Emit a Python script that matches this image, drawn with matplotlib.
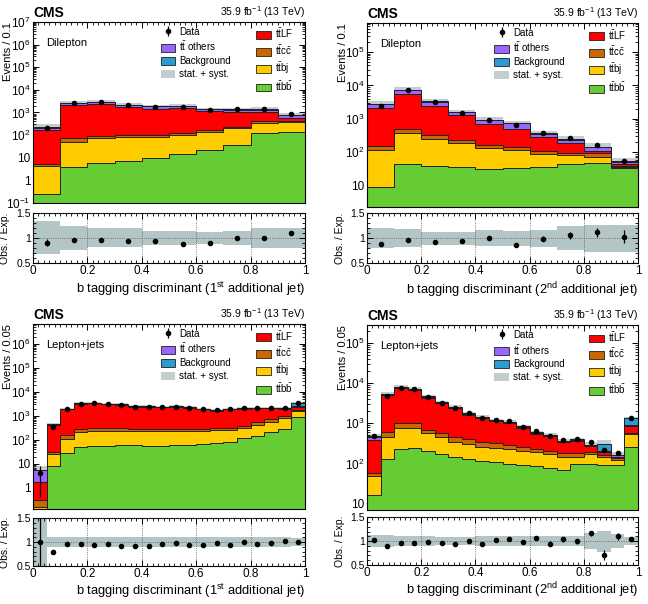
import numpy as np
import matplotlib
matplotlib.use("Agg")
import matplotlib.pyplot as plt
from matplotlib.patches import Patch
from matplotlib.ticker import LogLocator, FuncFormatter, NullFormatter, MultipleLocator

# ── Style ─────────────────────────────────────────────────────────────────────
plt.rcParams.update({
    "font.family": "Liberation Sans",
    "mathtext.fontset": "custom",
    "mathtext.rm": "Liberation Sans",
    "mathtext.it": "Liberation Sans:italic",
    "mathtext.bf": "Liberation Sans:bold",
    "axes.linewidth": 0.8,
})

C_BB = "#66cc33"
C_BJ = "#ffcc00"
C_CC = "#cc6600"
C_LF = "#ff0000"
C_OTH = "#9966ff"
C_BKG = "#2b9bd0"
C_BAND = "#c3cfcf"
C_RBAND = "#b3c5c5"

# ── Dilepton, 1st additional jet (10 bins) ───────────────────────────────────
dl1_ttbb = [0.25, 4.0, 5.6, 7.0, 10, 14.5, 23, 36, 130, 138]
dl1_ttbj = [4.2, 47, 72, 79, 76, 85, 121, 164, 210, 237]
dl1_ttcc = [0.6, 21, 18, 14, 18, 28, 26, 40, 60, 35]
dl1_ttlf = [165, 1980, 2200, 1600, 1370, 1430, 950, 840, 670, 180]
dl1_oth = [45, 560, 600, 430, 370, 400, 280, 270, 270, 150]
dl1_bkg = [7, 90, 100, 70, 60, 60, 60, 60, 60, 40]
dl1_data = [200, 2570, 2850, 2050, 1790, 1780, 1300, 1400, 1400, 850]
dl1_ratio = [0.90, 0.95, 0.95, 0.93, 0.94, 0.88, 0.89, 0.99, 1.00, 1.09]
dl1_rerr = [0.07, 0.02, 0.02, 0.02, 0.025, 0.025, 0.03, 0.03, 0.03, 0.04]
dl1_unc = [0.33, 0.24, 0.19, 0.19, 0.14, 0.14, 0.12, 0.14, 0.20, 0.20]

# ── Dilepton, 2nd additional jet (10 bins) ───────────────────────────────────
dl2_ttbb = [9.1, 44, 39, 36, 32, 33, 37, 45, 47, 33]
dl2_ttbj = [108, 346, 206, 150, 100, 84, 52, 38, 27, 3]
dl2_ttcc = [38, 100, 85, 48, 34, 31, 23, 15, 19, 2]
dl2_ttlf = [2000, 4900, 2170, 1056, 554, 352, 183, 88, 19, 8]
dl2_oth = [600, 1750, 760, 310, 195, 230, 65, 50, 30, 5]
dl2_bkg = [90, 270, 110, 50, 35, 37, 15, 9, 6, 2]
dl2_data = [2500, 7200, 3100, 1550, 950, 660, 370, 260, 166, 55]
dl2_ratio = [0.88, 0.97, 0.92, 0.94, 1.00, 0.86, 0.99, 1.06, 1.12, 1.03]
dl2_rerr = [0.01, 0.01, 0.02, 0.025, 0.03, 0.04, 0.05, 0.07, 0.09, 0.13]
dl2_unc = [0.20, 0.18, 0.13, 0.13, 0.16, 0.15, 0.17, 0.24, 0.27, 0.27]

# ── Lepton+jets, 1st additional jet (20 bins) ────────────────────────────────
lj1_ttbb = [0.12, 8.4, 28, 50, 54, 57, 60, 62, 57, 55, 60, 62, 70, 75, 85, 115, 140, 210, 290, 890]
lj1_ttbj = [0.04, 17.6, 82, 170, 186, 183, 180, 173, 173, 185, 185, 183, 175, 175, 170, 185, 270, 340, 510, 670]
lj1_ttcc = [0.15, 5, 52, 70, 60, 60, 60, 55, 50, 45, 45, 45, 45, 50, 55, 90, 130, 180, 200, 170]
lj1_ttlf = [1.5, 387, 1698, 2935, 3055, 2700, 2555, 2160, 2170, 2015, 2055, 1885, 1605, 1357, 1585, 1575, 1560, 1325, 1020, 620]
lj1_oth = [3.5, 20, 90, 160, 170, 150, 140, 120, 120, 115, 115, 110, 95, 85, 95, 100, 105, 100, 100, 150]
lj1_bkg = [0.15, 6, 30, 55, 55, 50, 45, 40, 40, 35, 40, 35, 30, 28, 30, 35, 35, 35, 40, 900]
lj1_data = [4.2, 355, 1900, 3300, 3400, 3100, 2800, 2400, 2400, 2350, 2450, 2200, 1900, 1750, 1900, 2100, 2150, 2150, 2200, 3500]
lj1_ratio = [1.00, 0.80, 0.96, 0.96, 0.95, 0.97, 0.92, 0.92, 0.92, 0.96, 0.98, 0.95, 0.94, 0.99, 0.94, 1.00, 0.96, 0.98, 1.02, 1.00]
lj1_rerr = [0.9, 0.04, 0.02, 0.015, 0.015, 0.015, 0.02, 0.02, 0.02, 0.02, 0.02, 0.02, 0.02, 0.025, 0.02, 0.02, 0.02, 0.02, 0.02, 0.015]
lj1_unc = [0.55, 0.10, 0.10, 0.10, 0.10, 0.10, 0.10, 0.10, 0.10, 0.10, 0.10, 0.10, 0.10, 0.10, 0.10, 0.10, 0.10, 0.10, 0.10, 0.08]

# ── Lepton+jets, 2nd additional jet (20 bins) ────────────────────────────────
lj2_ttbb = [17, 128, 230, 250, 200, 175, 150, 128, 117, 108, 98, 93, 85, 77, 69, 98, 100, 93, 94, 265]
lj2_ttbj = [31, 342, 520, 540, 390, 275, 200, 172, 148, 142, 132, 117, 105, 93, 81, 52, 70, 57, 26, 270]
lj2_ttcc = [9, 150, 250, 240, 110, 140, 120, 100, 85, 70, 60, 55, 40, 30, 30, 35, 20, 15, 15, 55]
lj2_ttlf = [333, 4430, 6520, 5820, 3690, 2540, 1995, 1260, 1025, 800, 740, 515, 325, 278, 157, 185, 86, 25, 15, 270]
lj2_oth = [80, 250, 380, 340, 220, 160, 120, 85, 70, 55, 50, 40, 30, 25, 18, 18, 10, 10, 10, 50]
lj2_bkg = [10, 90, 140, 130, 80, 60, 45, 35, 25, 25, 20, 20, 15, 12, 10, 12, 7, 110, 5, 440]
lj2_data = [490, 4850, 7800, 7100, 4600, 3250, 2450, 1780, 1400, 1230, 1150, 820, 640, 490, 380, 400, 340, 220, 182, 1400]
lj2_ratio = [1.02, 0.90, 0.97, 0.97, 0.98, 0.97, 0.93, 1.00, 0.95, 1.02, 1.05, 0.98, 1.07, 0.95, 1.04, 1.00, 1.16, 0.71, 1.10, 1.04]
lj2_rerr = [0.04, 0.015, 0.01, 0.01, 0.015, 0.02, 0.02, 0.025, 0.03, 0.03, 0.035, 0.04, 0.04, 0.045, 0.05, 0.05, 0.06, 0.10, 0.07, 0.04]
lj2_unc = [0.12, 0.12, 0.10, 0.10, 0.10, 0.09, 0.09, 0.09, 0.10, 0.10, 0.10, 0.10, 0.10, 0.10, 0.10, 0.10, 0.17, 0.22, 0.15, 0.08]

LABELS_L = ["Data", r"t$\bar{\rm t}$ others", "Background", "stat. + syst."]
LABELS_R = [r"t$\bar{\rm t}$LF", r"t$\bar{\rm t}$c$\bar{\rm c}$",
            r"t$\bar{\rm t}$bj", r"t$\bar{\rm t}$b$\bar{\rm b}$"]


def log_label(v, pos):
    e = int(round(np.log10(v)))
    if e == 0:
        return "1"
    if e == 1:
        return "10"
    return r"10$^{%d}$" % e


def style_ticks(ax, size=8.5):
    ax.tick_params(which="both", direction="in", top=True, right=True, labelsize=size)
    ax.tick_params(which="major", length=4.5, width=0.7)
    ax.tick_params(which="minor", length=2.2, width=0.6)


def draw_panel(main_rect, ratio_rect, comps, data, ratio, rerr, unc,
               ylim, channel, ylabel, xlabel, xlab_y):
    ax = fig.add_axes(main_rect)
    rax = fig.add_axes(ratio_rect)

    comps = np.array(comps, dtype=float)
    data = np.array(data, dtype=float)
    ratio = np.array(ratio, dtype=float)
    rerr = np.array(rerr, dtype=float)
    unc = np.array(unc, dtype=float)
    edges = np.linspace(0, 1, len(data) + 1)
    centers = 0.5 * (edges[1:] + edges[:-1])
    stack = np.cumsum(comps, axis=0)
    total = stack[-1]

    # uncertainty band behind stack
    ax.stairs(total * (1 + unc), edges, baseline=total * (1 - unc),
              fill=True, color=C_BAND, lw=0, zorder=1)
    colors = [C_BB, C_BJ, C_CC, C_LF, C_OTH, C_BKG]
    base = np.full_like(total, 1e-3)
    for top, c in zip(stack, colors):
        ax.stairs(top, edges, baseline=base, fill=True, color=c, lw=0, zorder=2)
        base = top
    for top in stack:
        ax.stairs(top, edges, baseline=None, color="#202020", lw=0.7, zorder=3)

    h_data = ax.errorbar(centers, data, yerr=data * rerr / ratio, fmt="o", ms=3,
                         color="black", elinewidth=0.9, capsize=0, zorder=5)

    ax.set_yscale("log")
    ax.set_xlim(0, 1)
    ax.set_ylim(*ylim)
    ax.yaxis.set_major_locator(LogLocator(base=10, numticks=15))
    ax.yaxis.set_minor_locator(LogLocator(base=10, subs=np.arange(2, 10), numticks=15))
    ax.yaxis.set_major_formatter(FuncFormatter(log_label))
    ax.yaxis.set_minor_formatter(NullFormatter())
    ax.xaxis.set_major_locator(MultipleLocator(0.2))
    ax.xaxis.set_minor_locator(MultipleLocator(0.02))
    style_ticks(ax)
    ax.tick_params(axis="x", labelbottom=False)
    ax.tick_params(axis="y", pad=2)
    ax.set_ylabel(ylabel, fontsize=8, loc="top")
    ax.yaxis.set_label_coords(-0.072, 1.0)

    ax.text(0, 1.012, "CMS", transform=ax.transAxes, fontsize=10,
            fontweight="bold", ha="left", va="bottom")
    ax.text(1, 1.012, r"35.9 fb$^{-1}$ (13 TeV)", transform=ax.transAxes,
            fontsize=7.5, ha="right", va="bottom")
    ax.text(0.05, 0.885, channel, transform=ax.transAxes, fontsize=8,
            ha="left", va="center")

    hl = [h_data,
          Patch(facecolor=C_OTH, edgecolor="#202020", lw=0.6),
          Patch(facecolor=C_BKG, edgecolor="#202020", lw=0.6),
          Patch(facecolor=C_BAND, edgecolor="none")]
    hr = [Patch(facecolor=c, edgecolor="#202020", lw=0.6)
          for c in [C_LF, C_CC, C_BJ, C_BB]]
    kw = dict(frameon=False, fontsize=7, handlelength=1.5, handleheight=0.8,
              labelspacing=0.3, borderaxespad=0, handletextpad=0.4,
              borderpad=0, loc="upper left")
    leg1 = ax.legend(hl, LABELS_L, bbox_to_anchor=(0.47, 0.975), **kw)
    ax.add_artist(leg1)
    ax.legend(hr, LABELS_R, bbox_to_anchor=(0.82, 0.975), **kw)

    # ratio panel
    rax.stairs(1 + unc, edges, baseline=1 - unc, fill=True, color=C_RBAND, lw=0, zorder=1)
    rax.errorbar(centers, ratio, yerr=rerr, fmt="o", ms=3, color="black",
                 elinewidth=0.9, capsize=0, zorder=5)
    rax.set_xlim(0, 1)
    rax.set_ylim(0.5, 1.5)
    rax.set_yticks([0.5, 1, 1.5])
    rax.set_yticklabels(["0.5", "1", "1.5"])
    rax.yaxis.set_minor_locator(MultipleLocator(0.1))
    rax.xaxis.set_major_locator(MultipleLocator(0.2))
    rax.xaxis.set_minor_locator(MultipleLocator(0.02))
    rax.xaxis.set_major_formatter(FuncFormatter(lambda v, p: "%g" % round(v, 1)))
    style_ticks(rax)
    rax.tick_params(axis="x", pad=1.5)
    rax.tick_params(axis="y", pad=1.5, labelsize=7.5)
    rax.grid(True, which="major", linestyle=":", color="#555555", lw=0.6, zorder=2)
    rax.set_axisbelow(False)
    rax.set_ylabel("Obs. / Exp.", fontsize=7.5)
    rax.yaxis.set_label_coords(-0.083, 0.5)
    rax.set_xlabel(xlabel, fontsize=9.3, loc="right")
    rax.xaxis.set_label_coords(1.0, xlab_y)


fig = plt.figure(figsize=(6.48, 6.04), dpi=100)

XL1 = r"b tagging discriminant (1$^{\rm st}$ additional jet)"
XL2 = r"b tagging discriminant (2$^{\rm nd}$ additional jet)"

draw_panel([0.0509, 0.6639, 0.4198, 0.2997], [0.0509, 0.5646, 0.4198, 0.0828],
           [dl1_ttbb, dl1_ttbj, dl1_ttcc, dl1_ttlf, dl1_oth, dl1_bkg],
           dl1_data, dl1_ratio, dl1_rerr, dl1_unc, (0.1, 1e7),
           "Dilepton", "Events / 0.1", XL1, -0.34)
draw_panel([0.5664, 0.6573, 0.4182, 0.3046], [0.5664, 0.5640, 0.4182, 0.0828],
           [dl2_ttbb, dl2_ttbj, dl2_ttcc, dl2_ttlf, dl2_oth, dl2_bkg],
           dl2_data, dl2_ratio, dl2_rerr, dl2_unc, (2.3, 7.4e5),
           "Dilepton", "Events / 0.1", XL2, -0.34)
draw_panel([0.0509, 0.1573, 0.4198, 0.3063], [0.0509, 0.0629, 0.4198, 0.0790],
           [lj1_ttbb, lj1_ttbj, lj1_ttcc, lj1_ttlf, lj1_oth, lj1_bkg],
           lj1_data, lj1_ratio, lj1_rerr, lj1_unc, (0.13, 6.9e6),
           "Lepton+jets", "Events / 0.05", XL1, -0.33)
draw_panel([0.5664, 0.1556, 0.4182, 0.3063], [0.5664, 0.0646, 0.4182, 0.0790],
           [lj2_ttbb, lj2_ttbj, lj2_ttcc, lj2_ttlf, lj2_oth, lj2_bkg],
           lj2_data, lj2_ratio, lj2_rerr, lj2_unc, (7, 2.8e5),
           "Lepton+jets", "Events / 0.05", XL2, -0.33)

fig.savefig("out.png", dpi=100)
